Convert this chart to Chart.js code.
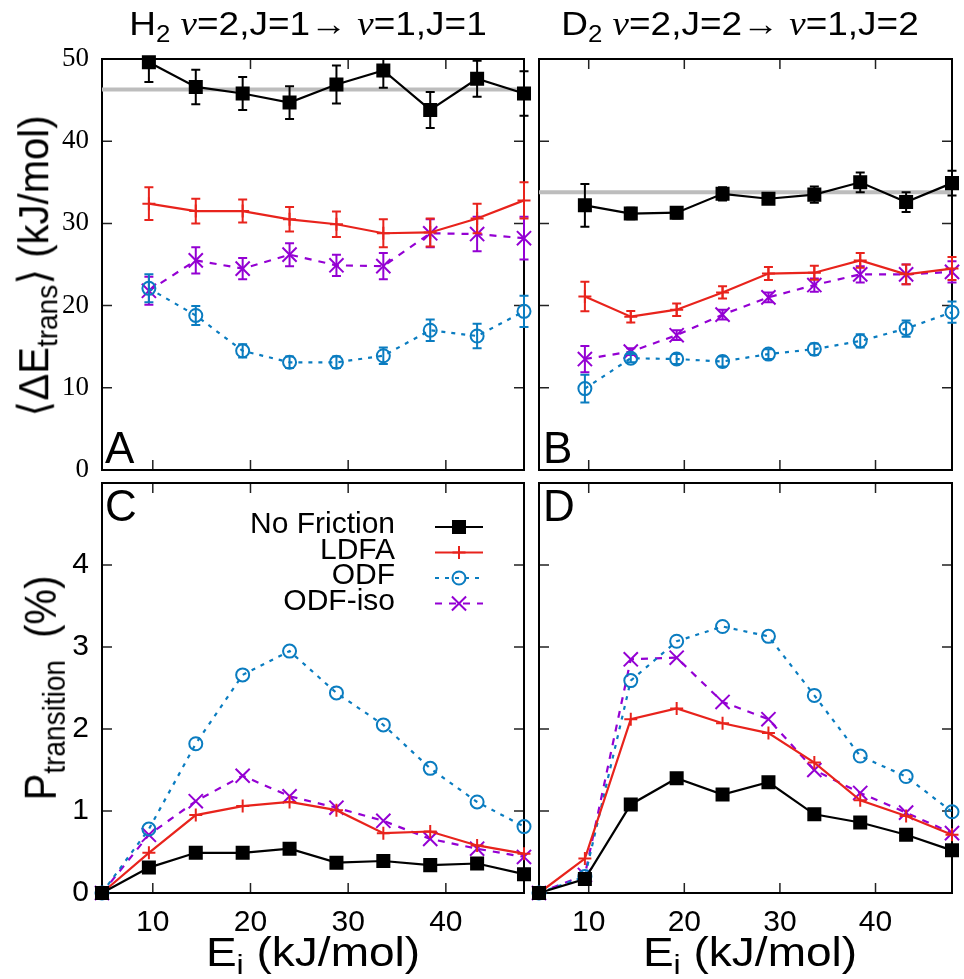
<!DOCTYPE html>
<html>
<head>
<meta charset="utf-8">
<script src="https://cdn.jsdelivr.net/npm/chart.js@4.4.1/dist/chart.umd.min.js"></script>
<style>
    html, body { margin: 0; padding: 0; background: #fff; }
    #page { position: relative; width: 964px; height: 979px; overflow: hidden; font-family: 'Liberation Sans', Arial, sans-serif; color: #000; }
    #page canvas { position: absolute; left: 0; top: 0; }
    .txt { position: absolute; white-space: nowrap; line-height: 1; }
    .txt sub { font-size: 70%; vertical-align: -0.3em; line-height: 0; }
    .nu { font-family: 'Liberation Serif', 'DejaVu Serif', serif; font-style: italic; }
    .title { font-size: 33px; transform: translateX(-50%) scaleX(1.12); }
    .axis { font-size: 40px; }
    .letter { font-size: 44px; }
</style>
</head>
<body>
<div id="page">
    <canvas id="panelA" width="964" height="979"></canvas>
    <canvas id="panelB" width="964" height="979"></canvas>
    <canvas id="panelC" width="964" height="979"></canvas>
    <canvas id="panelD" width="964" height="979"></canvas>

    <div class="txt title" style="left:308px; top:7px;">H<sub>2</sub> <span class="nu">ν</span>=2,J=1→ <span class="nu">ν</span>=1,J=1</div>
    <div class="txt title" style="left:740px; top:7px;">D<sub>2</sub> <span class="nu">ν</span>=2,J=2→ <span class="nu">ν</span>=1,J=2</div>

    <div class="txt axis" style="left:33px; top:266px; transform: translate(-50%, -50%) scaleX(1.08) rotate(-90deg);">⟨ΔE<sub>trans</sub>⟩ (kJ/mol)</div>
    <div class="txt axis" style="left:40px; top:688px; transform: translate(-50%, -50%) scaleX(1.1) rotate(-90deg);">P<sub>transition</sub>&nbsp; (%)</div>
    <div class="txt axis" style="left:313px; top:952px; transform: translate(-50%, -50%) scaleX(1.15);">E<sub>i</sub> (kJ/mol)</div>
    <div class="txt axis" style="left:750px; top:952px; transform: translate(-50%, -50%) scaleX(1.15);">E<sub>i</sub> (kJ/mol)</div>

    <div class="txt letter" style="left:105px; top:426px;">A</div>
    <div class="txt letter" style="left:543px; top:426px;">B</div>
    <div class="txt letter" style="left:105px; top:484px;">C</div>
    <div class="txt letter" style="left:543px; top:484px;">D</div>
</div>

<script>
// incidence energies (kJ/mol)
const energies = [4.8, 9.6, 14.4, 19.2, 24.0, 28.8, 33.6, 38.4, 43.2, 48.0];
const energiesDE = [9.6, 14.4, 19.2, 24.0, 28.8, 33.6, 38.4, 43.2, 48.0];

const xTickValues = [10, 20, 30, 40];
const deTickValues = [0, 10, 20, 30, 40, 50];
const probTickValues = [0, 1, 2, 3, 4];

// panel A: H2 <dE_trans>
const nfA = [49.6, 46.6, 45.8, 44.7, 46.9, 48.6, 43.8, 47.6, 45.8];
const nfAErr = [2.4, 2.1, 2.0, 2.0, 2.3, 2.1, 2.2, 2.2, 2.7];
const ldfaA = [32.4, 31.5, 31.5, 30.5, 29.9, 28.8, 28.9, 30.6, 32.8];
const ldfaAErr = [2.0, 1.5, 1.4, 1.5, 1.55, 1.7, 1.7, 1.8, 2.2];
const odfA = [22.1, 18.8, 14.5, 13.1, 13.1, 13.9, 17.0, 16.3, 19.3];
const odfAErr = [1.7, 1.15, 0.8, 0.7, 0.7, 1.0, 1.3, 1.5, 1.9];
const isoA = [21.8, 25.5, 24.5, 26.2, 24.9, 24.8, 28.8, 28.7, 28.2];
const isoAErr = [1.7, 1.6, 1.3, 1.4, 1.3, 1.6, 1.7, 2.1, 2.6];
const refA = 46.3;

// panel B: D2 <dE_trans>
const nfB = [32.2, 31.2, 31.3, 33.6, 33.0, 33.5, 35.0, 32.6, 34.9];
const nfBErr = [2.6, 0.7, 0.7, 0.8, 0.6, 1.0, 1.2, 1.2, 1.5];
const ldfaB = [21.1, 18.65, 19.5, 21.6, 23.9, 24.0, 25.5, 23.8, 24.5];
const ldfaBErr = [1.8, 0.7, 0.75, 0.75, 0.8, 0.85, 0.9, 1.2, 1.4];
const odfB = [9.9, 13.6, 13.5, 13.2, 14.1, 14.7, 15.7, 17.2, 19.2];
const odfBErr = [1.7, 0.5, 0.6, 0.6, 0.6, 0.7, 0.8, 1.0, 1.3];
const isoB = [13.5, 14.4, 16.4, 18.9, 21.0, 22.5, 23.8, 23.8, 24.1];
const isoBErr = [1.6, 0.4, 0.6, 0.6, 0.6, 0.8, 1.0, 1.2, 1.3];
const refB = 33.8;

// panel C: H2 transition probability (%)
const nfC = [0, 0.31, 0.49, 0.49, 0.54, 0.37, 0.39, 0.34, 0.36, 0.23];
const ldfaC = [0, 0.49, 0.95, 1.06, 1.11, 1.01, 0.73, 0.75, 0.58, 0.48];
const odfC = [0, 0.78, 1.82, 2.66, 2.95, 2.44, 2.05, 1.52, 1.11, 0.81];
const isoC = [0, 0.71, 1.12, 1.43, 1.18, 1.04, 0.88, 0.66, 0.54, 0.44];

// panel D: D2 transition probability (%)
const nfD = [0, 0.17, 1.08, 1.40, 1.20, 1.35, 0.96, 0.86, 0.71, 0.52];
const ldfaD = [0, 0.42, 2.12, 2.25, 2.07, 1.95, 1.59, 1.13, 0.94, 0.71];
const odfD = [0, 0.20, 2.59, 3.07, 3.25, 3.13, 2.41, 1.67, 1.42, 0.99];
const isoD = [0, 0.22, 2.85, 2.87, 2.33, 2.12, 1.50, 1.22, 0.98, 0.73];

const seriesNames = ['No Friction', 'LDFA', 'ODF', 'ODF-iso'];

const colors = {
    nf: '#000000',
    ldfa: '#e8231c',
    odf: '#0a7cc0',
    iso: '#9400d3',
    ref: '#bdbdbd'
};

const styles = [
    { color: colors.nf, pointStyle: 'rect', radius: 8.5, dash: [] },
    { color: colors.ldfa, pointStyle: 'cross', radius: 6.5, dash: [] },
    { color: colors.odf, pointStyle: 'circle', radius: 6.5, dash: [4, 6] },
    { color: colors.iso, pointStyle: 'crossRot', radius: 10, dash: [7, 7] }
];

function toPoints(xs, ys) {
    return ys.map((v, i) => ({ x: xs[i], y: v }));
}

function makeSeries(xs, values, errors) {
    return values.map((vals, k) => ({
        label: seriesNames[k],
        data: toPoints(xs, vals),
        errors: errors ? errors[k] : null,
        borderColor: styles[k].color,
        backgroundColor: k === 0 ? styles[k].color : 'rgba(0,0,0,0)',
        borderWidth: 2.2,
        borderDash: styles[k].dash,
        pointStyle: styles[k].pointStyle,
        pointRadius: styles[k].radius,
        pointBorderWidth: 2,
        pointBorderColor: styles[k].color,
        pointBackgroundColor: k === 0 ? styles[k].color : 'rgba(0,0,0,0)',
        tension: 0,
        clip: false,
        order: k
    }));
}

function refLine(value) {
    return {
        label: 'reference',
        data: toPoints([energies[0], energies[energies.length - 1]], [value, value]),
        borderColor: colors.ref,
        borderWidth: 4,
        pointRadius: 0,
        order: 10
    };
}

// box and inward ticks on all four sides
const framePlugin = {
    id: 'frame',
    beforeDatasetsDraw(chart, args, opts) {
        const { ctx, chartArea: a, scales: { x, y } } = chart;
        ctx.save();
        ctx.strokeStyle = '#222';
        ctx.lineWidth = 1.5;
        ctx.beginPath();
        opts.xTicks.forEach(v => {
            const px = x.getPixelForValue(v);
            ctx.moveTo(px, a.bottom); ctx.lineTo(px, a.bottom - 10);
            ctx.moveTo(px, a.top); ctx.lineTo(px, a.top + 10);
        });
        opts.yTicks.forEach(v => {
            const py = y.getPixelForValue(v);
            ctx.moveTo(a.left, py); ctx.lineTo(a.left + 10, py);
            ctx.moveTo(a.right, py); ctx.lineTo(a.right - 10, py);
        });
        ctx.stroke();
        ctx.strokeStyle = '#000';
        ctx.lineWidth = 2;
        ctx.strokeRect(a.left, a.top, a.right - a.left, a.bottom - a.top);
        ctx.restore();
    }
};

const errorBarPlugin = {
    id: 'errorBars',
    beforeDatasetDraw(chart, args) {
        const ds = chart.data.datasets[args.index];
        if (!ds.errors) return;
        const { ctx, chartArea: a, scales: { y } } = chart;
        ctx.save();
        ctx.beginPath();
        ctx.rect(a.left - 20, a.top, a.right - a.left + 40, a.bottom - a.top);
        ctx.clip();
        ctx.strokeStyle = ds.borderColor;
        ctx.lineWidth = 2;
        ctx.setLineDash([]);
        ctx.beginPath();
        args.meta.data.forEach((pt, i) => {
            const lo = y.getPixelForValue(ds.data[i].y - ds.errors[i]);
            const hi = y.getPixelForValue(ds.data[i].y + ds.errors[i]);
            ctx.moveTo(pt.x, lo); ctx.lineTo(pt.x, hi);
            ctx.moveTo(pt.x - 4.5, lo); ctx.lineTo(pt.x + 4.5, lo);
            ctx.moveTo(pt.x - 4.5, hi); ctx.lineTo(pt.x + 4.5, hi);
        });
        ctx.stroke();
        ctx.restore();
    }
};

// gnuplot style key: right aligned text, line sample with marker
const keyPlugin = {
    id: 'key',
    afterDatasetsDraw(chart, args, opts) {
        if (!opts.show) return;
        const ctx = chart.ctx;
        chart.data.datasets.slice(0, 4).forEach((ds, i) => {
            const yy = opts.top + i * opts.step;
            ctx.save();
            ctx.font = '30px "Liberation Sans", Arial, sans-serif';
            ctx.textAlign = 'right';
            ctx.textBaseline = 'middle';
            ctx.fillStyle = '#000';
            ctx.fillText(ds.label, opts.textRight, yy - 2);
            ctx.strokeStyle = ds.borderColor;
            ctx.lineWidth = ds.borderWidth;
            ctx.setLineDash(ds.borderDash);
            ctx.beginPath();
            ctx.moveTo(opts.lineLeft, yy);
            ctx.lineTo(opts.lineRight, yy);
            ctx.stroke();
            ctx.setLineDash([]);
            ctx.fillStyle = ds.pointBackgroundColor;
            ctx.lineWidth = ds.pointBorderWidth;
            Chart.helpers.drawPoint(ctx, {
                pointStyle: ds.pointStyle,
                radius: ds.pointRadius,
                borderWidth: ds.pointBorderWidth,
                rotation: 0
            }, (opts.lineLeft + opts.lineRight) / 2, yy);
            ctx.restore();
        });
    }
};

function buildPanel(id, p) {
    return new Chart(document.getElementById(id).getContext('2d'), {
        type: 'line',
        data: { datasets: p.datasets },
        plugins: [framePlugin, errorBarPlugin, keyPlugin],
        options: {
            responsive: false,
            animation: false,
            events: [],
            layout: { padding: p.padding },
            plugins: {
                legend: { display: false },
                tooltip: { enabled: false },
                frame: { xTicks: xTickValues, yTicks: p.innerYTicks },
                key: p.key || { show: false }
            },
            scales: {
                x: {
                    type: 'linear',
                    min: energies[0],
                    max: energies[energies.length - 1],
                    display: p.showX,
                    grid: { display: false, drawTicks: false },
                    border: { display: false },
                    afterBuildTicks: s => { s.ticks = xTickValues.map(v => ({ value: v })); },
                    afterFit: s => { s.height = p.showX ? 86 : 0; },
                    ticks: {
                        padding: 12,
                        maxRotation: 0,
                        color: '#000',
                        font: { family: "'Liberation Sans', Arial, sans-serif", size: 30 }
                    }
                },
                y: {
                    type: 'linear',
                    min: p.yMin,
                    max: p.yMax,
                    display: p.showY,
                    grid: { display: false, drawTicks: false },
                    border: { display: false },
                    afterBuildTicks: s => { s.ticks = p.yTicks.map(v => ({ value: v })); },
                    afterFit: s => { s.width = p.showY ? 102 : 0; },
                    ticks: {
                        padding: 13,
                        color: '#000',
                        font: p.yFont
                    }
                }
            }
        }
    });
}

buildPanel('panelA', {
    datasets: [...makeSeries(energiesDE, [nfA, ldfaA, odfA, isoA], [nfAErr, ldfaAErr, odfAErr, isoAErr]), refLine(refA)],
    padding: { left: 0, right: 440, top: 59, bottom: 509 },
    showX: false, showY: true,
    yMin: 0, yMax: 50,
    yTicks: deTickValues, innerYTicks: [10, 20, 30, 40],
    yFont: { family: "'Liberation Serif', 'Times New Roman', serif", size: 27 }
});

buildPanel('panelB', {
    datasets: [...makeSeries(energiesDE, [nfB, ldfaB, odfB, isoB], [nfBErr, ldfaBErr, odfBErr, isoBErr]), refLine(refB)],
    padding: { left: 539, right: 2, top: 59, bottom: 509 },
    showX: false, showY: false,
    yMin: 0, yMax: 50,
    yTicks: deTickValues, innerYTicks: [10, 20, 30, 40],
    yFont: { size: 27 }
});

buildPanel('panelC', {
    datasets: makeSeries(energies, [nfC, ldfaC, odfC, isoC], null),
    padding: { left: 0, right: 440, top: 483, bottom: 0 },
    showX: true, showY: true,
    yMin: 0, yMax: 5,
    yTicks: probTickValues, innerYTicks: [1, 2, 3, 4],
    yFont: { family: "'Liberation Sans', Arial, sans-serif", size: 30 },
    key: { show: true, top: 527, step: 25.5, textRight: 395, lineLeft: 435, lineRight: 483 }
});

buildPanel('panelD', {
    datasets: makeSeries(energies, [nfD, ldfaD, odfD, isoD], null),
    padding: { left: 539, right: 2, top: 483, bottom: 0 },
    showX: true, showY: false,
    yMin: 0, yMax: 5,
    yTicks: probTickValues, innerYTicks: [1, 2, 3, 4],
    yFont: { size: 30 }
});
</script>
</body>
</html>
